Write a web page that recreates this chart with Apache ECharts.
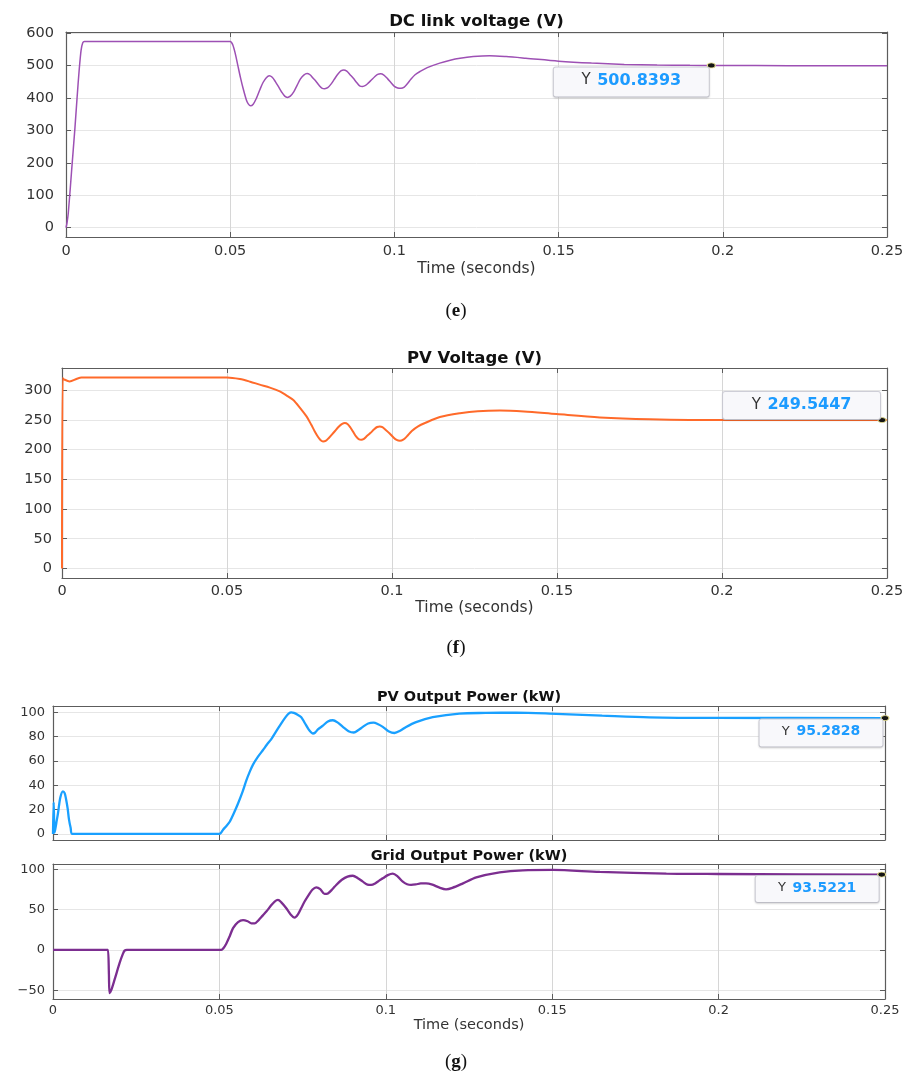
<!DOCTYPE html>
<html>
<head>
<meta charset="utf-8">
<script src="https://cdn.jsdelivr.net/npm/echarts@6/dist/echarts.min.js"></script>
<style>
html,body{margin:0;padding:0;background:#ffffff;}
#c{width:913px;height:1075px;}
</style>
</head>
<body>
<div id="c"></div>
<script>
// ---------- data ----------
const xTicks = [0, 0.05, 0.1, 0.15, 0.2, 0.25];

// (e) DC link voltage (V)
const dcTime = [0, 0.0003, 0.0007, 0.0017, 0.0027, 0.0034, 0.004, 0.0046, 0.0051, 0.0056,
  0.05, 0.0508, 0.0516, 0.0524, 0.0532, 0.0539, 0.0549, 0.0555, 0.0562, 0.057, 0.058, 0.059, 0.06, 0.061, 0.0619,
  0.0628, 0.0638, 0.0647, 0.0657, 0.0666, 0.0674, 0.0683, 0.0694, 0.0704, 0.0714, 0.0724, 0.0734,
  0.0743, 0.0752, 0.0761, 0.077, 0.0779, 0.0788, 0.0797, 0.0807, 0.0817, 0.0827, 0.0837, 0.0846,
  0.0855, 0.0865, 0.0875, 0.0885, 0.0894, 0.0903, 0.0912, 0.0921, 0.093, 0.094, 0.0949, 0.0958,
  0.0968, 0.0979, 0.099, 0.1, 0.101, 0.102, 0.103, 0.104, 0.105, 0.1063, 0.1078, 0.11, 0.1138, 0.117, 0.12,
  0.124, 0.129, 0.134, 0.14, 0.15, 0.16, 0.17, 0.18, 0.19, 0.1965, 0.21, 0.23, 0.25];
const dcVolt = [0, 14, 45, 175, 305, 405, 485, 548, 571, 575,
  575, 564, 535, 497, 460, 431, 395, 382, 376, 381, 400, 425, 448, 463, 469,
  464, 450, 435, 418, 406, 402, 406, 420, 440, 459, 471, 476,
  472, 462, 452, 440, 431, 429, 432, 443, 458, 473, 484, 487,
  483, 472, 461, 448, 438, 436, 439, 447, 456, 466, 473, 475,
  471, 460, 447, 436, 431, 430, 434, 445, 458, 472, 482, 494, 508, 517, 523,
  528, 530.5, 528, 523, 514, 508, 504, 502, 501, 500.8, 500.3, 500, 500];
const dcTicks = [0, 100, 200, 300, 400, 500, 600];
const dcTip = [0.1965, 500.8393];

// (f) PV voltage (V)
const pvvTime = [0, 0.0002, 0.0006, 0.0023, 0.0045, 0.0059, 0.05, 0.0539, 0.057, 0.0599, 0.063, 0.066, 0.068, 0.07,
  0.072, 0.0741, 0.0755, 0.0766, 0.0776, 0.0784, 0.0791, 0.0799, 0.0808, 0.0824, 0.084, 0.0849, 0.0857,
  0.0865, 0.0874, 0.0882, 0.0891, 0.0899, 0.0907, 0.0915, 0.0924, 0.0935, 0.0946, 0.0955, 0.0963,
  0.0971, 0.0982, 0.0993, 0.1004, 0.1014, 0.1024, 0.1034, 0.1045, 0.106, 0.1079, 0.11, 0.1145, 0.1206,
  0.126, 0.1327, 0.14, 0.1499, 0.163, 0.178, 0.2004, 0.2485, 0.25];
const pvvVolt = [0, 320, 318, 314.5, 319, 321, 321, 318.4, 314, 309, 304, 297.6, 291, 283.6,
  271, 255.6, 242, 230.4, 221, 215.5, 213.6, 214.5, 219, 229, 239, 243, 244.4,
  243, 237, 230, 222, 217.5, 216.4, 218, 222.5, 228, 234, 237.8, 238.8,
  237.5, 232.5, 227, 220.5, 216, 214.7, 216.5, 222, 231, 238.8, 244.5, 254.5, 261,
  264.5, 265.7, 264, 259.5, 254, 251, 249.4, 249.5, 249.6];
const pvvTicks = [0, 50, 100, 150, 200, 250, 300];
const pvvTip = [0.2485, 249.5447];

// (g) PV output power (kW)
const pvpTime = [0, 0.0002, 0.0005, 0.001, 0.0015, 0.0022, 0.003, 0.0035, 0.0039, 0.0044, 0.0048, 0.0053, 0.0058,
  0.05, 0.0505, 0.0511, 0.0521, 0.0531, 0.0545, 0.0556, 0.057, 0.0581, 0.0591, 0.0601, 0.0616, 0.0631, 0.0643, 0.0656,
  0.0671, 0.0686, 0.07, 0.0708, 0.0716, 0.0724, 0.0735, 0.0746, 0.0757, 0.0768, 0.0776, 0.0781, 0.0788, 0.0796,
  0.0811, 0.0826, 0.0841, 0.0856, 0.0871, 0.0888, 0.0904, 0.0918, 0.0931, 0.0947, 0.0963, 0.0977, 0.0991,
  0.1008, 0.1026, 0.1043, 0.1061, 0.1091, 0.1141, 0.1221, 0.13, 0.1392, 0.1492, 0.165, 0.1792, 0.1992, 0.25];
const pvpPower = [0, 26, 1, 9, 17, 30, 35, 33.5, 29, 21, 12, 5, 0,
  0, 1, 3.5, 6.5, 10, 18, 25, 35, 44, 51, 57, 63.5, 69, 73.5, 78,
  84.5, 91, 96.5, 99, 100, 99.5, 98, 96, 91, 86, 83.4, 82.6, 83.4, 86,
  89, 92.5, 93.5, 91.5, 88, 84.5, 83.4, 85.5, 88, 90.8, 91.5, 90.2, 88,
  84.5, 83, 84.8, 88, 92, 96, 99, 99.5, 99.7, 99, 97.3, 95.9, 95.4, 95.3];
const pvpTicks = [0, 20, 40, 60, 80, 100];
const pvpTip = [0.25, 95.2828];

// (g) Grid output power (kW)
const grdTime = [0, 0.016, 0.0165, 0.0168, 0.017, 0.0175, 0.0185, 0.02, 0.021, 0.0215, 0.0222,
  0.0506, 0.0512, 0.0521, 0.0531, 0.0541, 0.0556, 0.0571, 0.0585, 0.0596, 0.0606, 0.0618, 0.063, 0.0641,
  0.0655, 0.0666, 0.0676, 0.0686, 0.0701, 0.0714, 0.0726, 0.0736, 0.0746, 0.0756, 0.0768, 0.078, 0.0791,
  0.0803, 0.0816, 0.0826, 0.084, 0.0851, 0.0868, 0.0885, 0.0901, 0.0916, 0.0931, 0.0945, 0.0956,
  0.0968, 0.098, 0.0991, 0.1006, 0.1021, 0.1036, 0.1051, 0.1064, 0.1076, 0.109, 0.1105, 0.1121,
  0.114, 0.116, 0.1181, 0.12, 0.1232, 0.1272, 0.1342, 0.1412, 0.1502, 0.1643, 0.1843, 0.2, 0.249, 0.25];
const grdPower = [0, 0, 0, -30, -53.7, -50, -37, -16.5, -5, -1, 0,
  0, 2, 8, 17, 27, 34.5, 37, 35.5, 33, 33, 37, 42.5, 47.5,
  55, 60, 62, 59, 51.7, 44, 40, 44, 52, 60, 68, 75, 77.7,
  75.5, 69.4, 70, 75.5, 80.6, 87, 91, 92, 89, 84.7, 81, 80.6,
  82.5, 86, 88.8, 92.8, 94.6, 91, 84.7, 81.5, 80.6, 81.2, 82.5, 82.6,
  81, 77.5, 75.2, 77, 82.6, 90, 96.3, 98.8, 99.2, 96.7, 94.6, 94.2, 93.5, 93.5];
const grdTicks = [-50, 0, 50, 100];
const grdTip = [0.249, 93.5221];

// ---------- helpers ----------
const FONT = '"DejaVu Sans", "Liberation Sans", sans-serif';
const zip = (a, b) => a.map((v, i) => [v, b[i]]);
const BOX = '#5c5c5c';

const panels = [
  {grid: {left: 66, top: 32, width: 821, height: 205}, yMin: -29, yMax: 604, yTicks: dcTicks,
   fs: 14.5, yMargin: 12, xMargin: 7, xLabels: true, xName: 'Time (seconds)', nameGap: 24, nameFs: 15.5},
  {grid: {left: 62, top: 368, width: 825, height: 210}, yMin: -16, yMax: 337, yTicks: pvvTicks,
   fs: 14.5, yMargin: 10, xMargin: 6, xLabels: true, xName: 'Time (seconds)', nameGap: 22, nameFs: 15.5},
  {grid: {left: 53, top: 706, width: 832, height: 134}, yMin: -5, yMax: 105.2, yTicks: pvpTicks,
   fs: 13, yMargin: 8, xMargin: 5, xLabels: false, xName: '', nameGap: 0, nameFs: 14},
  {grid: {left: 53, top: 864, width: 832, height: 135}, yMin: -61, yMax: 106.6, yTicks: grdTicks,
   fs: 13, yMargin: 8, xMargin: 5, xLabels: true, xName: 'Time (seconds)', nameGap: 19, nameFs: 14.5}
];

const grids = [], xAxes = [], yAxes = [];
panels.forEach((p, i) => {
  grids.push(Object.assign({outerBoundsMode: 'none', containLabel: false, show: false}, p.grid));
  const line = {show: true, onZero: false, lineStyle: {color: BOX, width: 1.2}};
  const tick = {show: true, inside: true, length: 5, lineStyle: {color: BOX, width: 1}};
  const lbl = {color: '#333', fontSize: p.fs, fontFamily: FONT};
  xAxes.push({
    gridIndex: i, type: 'value', min: 0, max: 0.25, interval: 0.05, position: 'bottom',
    axisLine: line, axisTick: tick,
    axisLabel: Object.assign({show: p.xLabels, margin: p.xMargin, showMinLabel: true, showMaxLabel: true,
      formatter: v => String(+v.toFixed(2))}, lbl),
    splitLine: {show: true, lineStyle: {color: '#d6d6d6', width: 1}},
    name: p.xName, nameLocation: 'middle', nameGap: p.nameGap,
    nameTextStyle: {color: '#333', fontSize: p.nameFs, fontFamily: FONT}
  });
  xAxes.push({
    gridIndex: i, type: 'value', min: 0, max: 0.25, interval: 0.05, position: 'top',
    axisLine: line, axisTick: tick, axisLabel: {show: false}, splitLine: {show: false}
  });
  yAxes.push({
    gridIndex: i, type: 'value', min: p.yMin, max: p.yMax, position: 'left',
    axisLine: line,
    axisTick: Object.assign({customValues: p.yTicks}, tick),
    axisLabel: Object.assign({customValues: p.yTicks, margin: p.yMargin,
      formatter: v => String(v).replace('-', '\u2212')}, lbl),
    splitLine: {show: true, lineStyle: {color: '#e6e6e6', width: 1}}
  });
  yAxes.push({
    gridIndex: i, type: 'value', min: p.yMin, max: p.yMax, position: 'right',
    axisLine: line,
    axisTick: Object.assign({customValues: p.yTicks}, tick),
    axisLabel: {show: false}, splitLine: {show: false}
  });
});

function tipPoint(tip, offset, w, h, vfs) {
  return {
    symbol: 'circle', symbolSize: [8, 5], silent: true,
    itemStyle: {color: '#151515', borderColor: '#e4dc8a', borderWidth: 1},
    label: {
      show: true, position: 'inside', offset: offset,
      width: w, height: h, align: 'center', verticalAlign: 'middle',
      backgroundColor: '#f8f8fb', borderColor: '#cfcfd8', borderWidth: 1, borderRadius: 2,
      padding: [5, 8],
      shadowColor: 'rgba(0,0,0,0.12)', shadowBlur: 2, shadowOffsetY: 1,
      formatter: d => '{k|Y}  {v|' + d.value.toFixed(4) + '}',
      rich: {
        k: {color: '#333', fontSize: vfs - 1, fontFamily: FONT},
        v: {color: '#1c9bff', fontSize: vfs, fontWeight: 'bold', fontFamily: FONT}
      }
    },
    data: [{coord: [tip[0], tip[1]], value: tip[1]}]
  };
}

const SM = 0.3;
const series = [
  {type: 'line', xAxisIndex: 0, yAxisIndex: 0, data: zip(dcTime, dcVolt), showSymbol: false, smooth: SM,
   lineStyle: {color: '#9d50b4', width: 1.5}, markPoint: tipPoint(dcTip, [-80, 16.5], 139, 19, 16)},
  {type: 'line', xAxisIndex: 2, yAxisIndex: 2, data: zip(pvvTime, pvvVolt), showSymbol: false, smooth: SM,
   lineStyle: {color: '#ff6a2a', width: 2}, markPoint: tipPoint(pvvTip, [-80.5, -14.5], 141, 17, 16)},
  {type: 'line', xAxisIndex: 4, yAxisIndex: 4, data: zip(pvpTime, pvpPower), showSymbol: false, smooth: SM,
   lineStyle: {color: '#19a0ff', width: 2.3}, markPoint: tipPoint(pvpTip, [-64, 15], 107, 17, 14)},
  {type: 'line', xAxisIndex: 6, yAxisIndex: 6, data: zip(grdTime, grdPower), showSymbol: false, smooth: SM,
   lineStyle: {color: '#7c2e90', width: 2.3}, markPoint: tipPoint(grdTip, [-64.5, 14.5], 107, 16, 14)}
];

const titleText = (text, x, y, size) => ({
  type: 'text', x: x, y: y, silent: true,
  style: {text: text, font: 'bold ' + size + 'px ' + FONT, fill: '#111',
          align: 'center', verticalAlign: 'middle', textAlign: 'center', textVerticalAlign: 'middle'}
});
const caption = (letter, x, y) => ({
  type: 'text', x: x, y: y, silent: true,
  style: {text: '{a|(}{b|' + letter + '}{a|)}',
          align: 'center', verticalAlign: 'middle', textAlign: 'center', textVerticalAlign: 'middle',
          rich: {
            a: {fontFamily: '"Liberation Serif", "DejaVu Serif", serif', fontSize: 19, fill: '#111', color: '#111'},
            b: {fontFamily: '"Liberation Serif", "DejaVu Serif", serif', fontSize: 19, fontWeight: 'bold', fill: '#111', color: '#111'}
          }}
});

const chart = echarts.init(document.getElementById('c'), null, {renderer: 'canvas'});
chart.setOption({
  animation: false,
  backgroundColor: '#ffffff',
  grid: grids,
  xAxis: xAxes,
  yAxis: yAxes,
  series: series,
  graphic: [
    titleText('DC link voltage (V)', 476.5, 22, 16.5),
    titleText('PV Voltage (V)', 474.5, 359, 16.5),
    titleText('PV Output Power (kW)', 469, 697, 14.5),
    titleText('Grid Output Power (kW)', 469, 856, 14.5),
    caption('e', 456, 311),
    caption('f', 456, 648),
    caption('g', 456, 1062)
  ]
});
</script>
</body>
</html>
